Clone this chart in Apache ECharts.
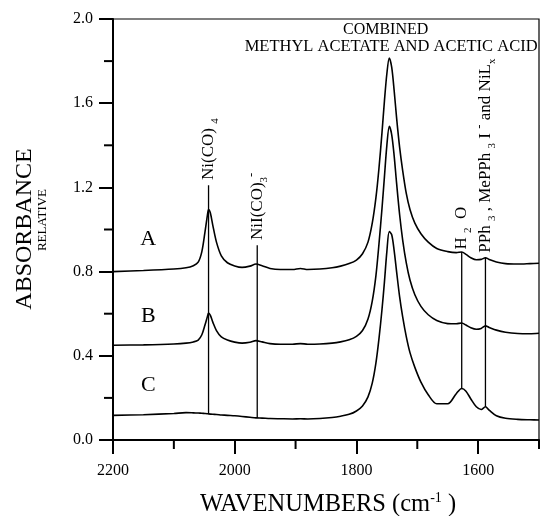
<!DOCTYPE html>
<html><head><meta charset="utf-8">
<script src="https://cdn.jsdelivr.net/npm/echarts@6/dist/echarts.min.js"></script>
<style>html,body{margin:0;padding:0;background:#fff}#c{width:540px;height:516px}</style>
</head><body><div id="c"></div>
<script>
const xTickLabels = [2200, 2000, 1800, 1600];
const xMinorTicks = [2100, 1900, 1700, 1500];
const yTickLabels = [0, 0.4, 0.8, 1.2, 1.6, 2.0];
const yMinorTicks = [0.2, 0.6, 1.0, 1.4, 1.8];

const wavenumbers = [2200,2150,2100,2080,2068,2060,2054,2049,2045,2043,2040,2036,2030,2022,2012,2000,1988,1975,1965,1955,1942,1925,1905,1892,1880,1860,1840,1826,1812,1800,1790,1781,1774,1768,1763,1758,1754,1750,1746,1742,1738,1734,1729,1724,1718,1712,1704,1694,1682,1668,1650,1636,1627,1620,1612,1603,1595,1588,1582,1570,1555,1535,1515,1500];
const absA = [0.800,0.805,0.812,0.818,0.828,0.845,0.895,0.985,1.065,1.095,1.078,1.02,0.94,0.875,0.842,0.827,0.820,0.826,0.836,0.828,0.815,0.810,0.810,0.815,0.810,0.812,0.818,0.826,0.838,0.855,0.885,0.94,1.03,1.15,1.29,1.46,1.61,1.74,1.815,1.77,1.66,1.53,1.39,1.28,1.17,1.095,1.03,0.98,0.94,0.91,0.895,0.89,0.893,0.882,0.866,0.856,0.858,0.866,0.858,0.846,0.838,0.836,0.838,0.840];
const absB = [0.450,0.452,0.456,0.460,0.466,0.475,0.50,0.545,0.585,0.603,0.592,0.56,0.52,0.49,0.475,0.465,0.460,0.464,0.472,0.466,0.458,0.455,0.455,0.458,0.455,0.456,0.460,0.466,0.476,0.492,0.52,0.575,0.66,0.78,0.93,1.10,1.25,1.40,1.49,1.45,1.35,1.22,1.07,0.95,0.84,0.76,0.69,0.635,0.595,0.568,0.553,0.552,0.556,0.546,0.533,0.526,0.530,0.542,0.535,0.522,0.512,0.506,0.505,0.507];
const absC = [0.117,0.120,0.126,0.130,0.129,0.128,0.127,0.126,0.125,0.124,0.123,0.122,0.121,0.119,0.117,0.115,0.112,0.108,0.105,0.104,0.102,0.101,0.100,0.101,0.100,0.102,0.107,0.113,0.122,0.138,0.162,0.205,0.27,0.365,0.48,0.62,0.75,0.895,0.99,0.975,0.90,0.80,0.68,0.585,0.49,0.415,0.345,0.275,0.215,0.172,0.172,0.22,0.245,0.232,0.195,0.158,0.145,0.158,0.142,0.115,0.103,0.098,0.096,0.095];

const annotWave = [2043, 1963, 1627, 1588];
const annotTop = [1.21, 0.925, 0.893, 0.866];
const annotBottom = [0.124, 0.105, 0.245, 0.158];
const annotTextAbs = [1.235, 0.95, 0.905, 0.89];
const annotTexts = [
  '{n|Ni(CO) }{s|4}',
  '{n|NiI(CO)}{s|3}{p|-}',
  '{n|H }{s|2}{n|  O}',
  '{n|PPh }{s|3}{n| , MePPh }{s|3}{n| I }{p|-}{n| and NiL}{s|x}'
];
const curveNames = ['A', 'B', 'C'];
const curveLabelWave = [2142, 2142, 2142];
const curveLabelAbs = [0.955, 0.59, 0.26];

const FONT = '"Liberation Serif", "Times New Roman", serif';
const chart = echarts.init(document.getElementById('c'), null, {renderer: 'canvas'});

function pairs(ys) { return wavenumbers.map((w, i) => [w, ys[i]]); }
const curveStyle = {color: '#000', width: 1.6};
const series = [absA, absB, absC].map((ys, i) => ({
  type: 'line', name: curveNames[i], data: pairs(ys), showSymbol: false, symbol: 'none',
  smooth: 0.3, lineStyle: curveStyle, silent: true
}));
annotWave.forEach((w, i) => {
  series.push({type: 'line', data: [[w, annotTop[i]], [w, annotBottom[i]]], showSymbol: false, symbol: 'none',
    lineStyle: {color: '#000', width: 1.3}, silent: true});
});

const axisLine = {show: true, lineStyle: {color: '#000', width: 2}};
chart.setOption({
  animation: false,
  backgroundColor: '#fff',
  grid: {left: 113, right: 1, top: 19, bottom: 76, show: true, borderColor: '#000', borderWidth: 1.2, containLabel: false, outerBoundsMode: 'none'},
  xAxis: {type: 'value', min: 1500, max: 2200, inverse: true, position: 'bottom', interval: 100,
     axisLine: axisLine, splitLine: {show: false},
     axisTick: {show: true, inside: false, length: 14, customValues: xTickLabels, lineStyle: {color: '#000', width: 2}},
     axisLabel: {customValues: xTickLabels, margin: 23, color: '#000', fontSize: 16, fontFamily: FONT, formatter: v => String(v)}},
  yAxis: {type: 'value', min: 0, max: 2, interval: 0.4, position: 'left',
     axisLine: axisLine, splitLine: {show: false},
     axisTick: {show: true, inside: false, length: 14, lineStyle: {color: '#000', width: 2}},
     axisLabel: {margin: 20, color: '#000', fontSize: 16, fontFamily: FONT, formatter: v => v.toFixed(1)}},
  series: series
});

const graphics = [];
// minor ticks, placed through the axes' own scales
xMinorTicks.forEach(v => {
  const p = chart.convertToPixel({gridIndex: 0}, [v, 0]);
  graphics.push({type: 'rect', silent: true, z: 100, shape: {x: p[0] - 1, y: p[1], width: 2, height: 9},
    style: {fill: '#000'}});
});
yMinorTicks.forEach(v => {
  const p = chart.convertToPixel({gridIndex: 0}, [2200, v]);
  graphics.push({type: 'rect', silent: true, z: 100, shape: {x: p[0] - 9, y: p[1] - 1, width: 9, height: 2},
    style: {fill: '#000'}});
});

const richSmall = {
  n: {fontSize: 17, fontFamily: FONT, fill: '#000', color: '#000', lineHeight: 24, verticalAlign: 'middle'},
  s: {fontSize: 11, fontFamily: FONT, fill: '#000', color: '#000', verticalAlign: 'bottom'},
  p: {fontSize: 13, fontFamily: FONT, fill: '#000', color: '#000', verticalAlign: 'top'}
};
annotWave.forEach((w, i) => {
  const p = chart.convertToPixel({gridIndex: 0}, [w, annotTextAbs[i]]);
  graphics.push({type: 'text', x: p[0], y: p[1], rotation: Math.PI / 2, silent: true,
    style: {text: annotTexts[i], rich: richSmall, fill: '#000', align: 'left', verticalAlign: 'middle',
      textAlign: 'left', textVerticalAlign: 'middle', fontFamily: FONT, fontSize: 17}});
});
curveNames.forEach((nm, i) => {
  const p = chart.convertToPixel({gridIndex: 0}, [curveLabelWave[i], curveLabelAbs[i]]);
  graphics.push({type: 'text', x: p[0], y: p[1], silent: true,
    style: {text: nm, fill: '#000', font: '22px ' + FONT, align: 'center', verticalAlign: 'middle', textAlign: 'center', textVerticalAlign: 'middle'}});
});
const t1 = chart.convertToPixel({gridIndex: 0}, [1752, 1.948]);
const t2 = chart.convertToPixel({gridIndex: 0}, [1743, 1.868]);
graphics.push({type: 'text', x: t1[0], y: t1[1], silent: true,
  style: {text: 'COMBINED', fill: '#000', font: '16px ' + FONT, align: 'center', verticalAlign: 'middle', textAlign: 'center', textVerticalAlign: 'middle'}});
graphics.push({type: 'text', x: t2[0], y: t2[1], silent: true,
  style: {text: 'METHYL ACETATE AND ACETIC ACID', fill: '#000', font: '16.5px ' + FONT, align: 'center', verticalAlign: 'middle', textAlign: 'center', textVerticalAlign: 'middle'}});
graphics.push({type: 'text', x: 328, y: 505, silent: true,
  style: {text: '{n|WAVENUMBERS (cm}{p|-1}{n| )}', fill: '#000', align: 'center', verticalAlign: 'middle', textAlign: 'center', textVerticalAlign: 'middle',
    rich: {n: {fontSize: 24.5, fontFamily: FONT, fill: '#000', lineHeight: 28, verticalAlign: 'middle'},
           p: {fontSize: 14, fontFamily: FONT, fill: '#000', verticalAlign: 'top'}}}});
graphics.push({type: 'text', x: 25, y: 229, rotation: Math.PI / 2, silent: true,
  style: {text: 'ABSORBANCE', fill: '#000', font: '24px ' + FONT, align: 'center', verticalAlign: 'middle', textAlign: 'center', textVerticalAlign: 'middle'}});
graphics.push({type: 'text', x: 43, y: 220, rotation: Math.PI / 2, silent: true,
  style: {text: 'RELATIVE', fill: '#000', font: '13px ' + FONT, align: 'center', verticalAlign: 'middle', textAlign: 'center', textVerticalAlign: 'middle'}});
chart.setOption({graphic: graphics});
</script></body></html>
